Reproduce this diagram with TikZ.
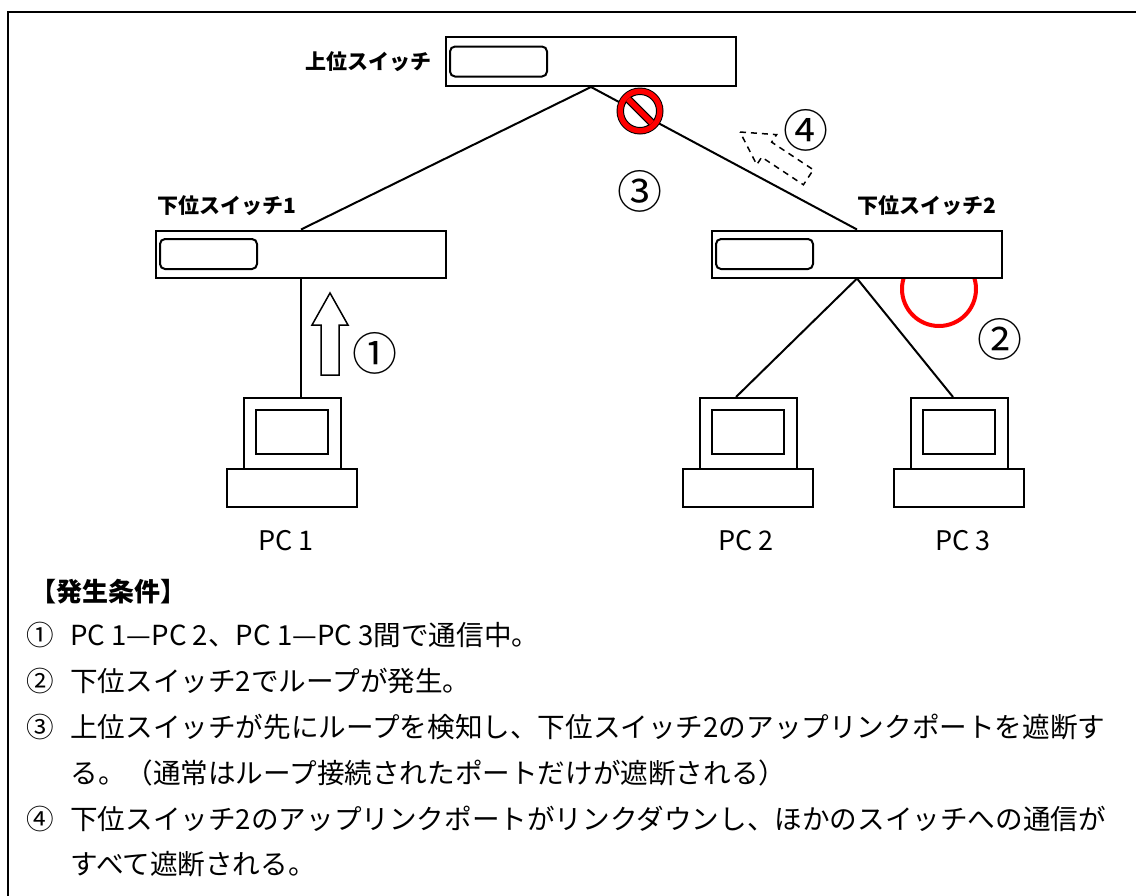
\documentclass[tikz,border=0pt]{standalone}
\usepackage{fontspec}
\setmainfont{Noto Sans CJK JP}
\usetikzlibrary{positioning}

\tikzset{
	pics/hollowarrow/.style={code={
		\draw[line width=0.75pt,fill=white,#1] (0,0) -- (18,32) -- (9,32) -- (9,82) -- (-9,82) -- (-9,32) -- (-18,32) -- cycle;
	}}
}

\begin{document}
\begin{tikzpicture}[x=0.5pt,y=-0.5pt,
	sw/.style={draw,fill=white,line width=1pt,minimum width=145pt,minimum height=24.5pt,inner sep=0pt},
	disp/.style={draw,line width=1pt,rounded corners=2.5pt,minimum width=48.5pt,minimum height=15pt,inner sep=0pt},
	mon/.style={draw,fill=white,line width=1pt,minimum width=48.5pt,minimum height=35.5pt,inner sep=0pt},
	scr/.style={draw,line width=1pt,minimum width=36pt,minimum height=22pt,inner sep=0pt},
	pcbase/.style={draw,fill=white,line width=1pt,minimum width=65pt,minimum height=19pt,inner sep=0pt},
	swlabel/.style={inner sep=0pt,font=\fontsize{10.5}{12}\selectfont\bfseries},
	pclabel/.style={inner sep=0pt,font=\fontsize{13.5}{16}\selectfont},
	num/.style={inner sep=0pt,font=\fontsize{22.5}{24}\selectfont},
	txt/.style={anchor=west,inner sep=0pt,font=\fontsize{13.8}{16}\selectfont},
	link/.style={line width=1pt}]
	\useasboundingbox (0,0) rectangle (1136,895);
	\draw[line width=1pt] (8,905) -- (8,12) -- (1145,12);

	% loop at the lower switch 2
	\draw[red,line width=2pt] (939,289) circle[radius=18.5pt];

	% switches
	\node[sw] (up) at (591,61.5) {};
	\node[disp,right=2pt of up.west] (updisp) {};
	\node[swlabel,left=6.5pt of up.west] (uplabel) {上位スイッチ};
	\node[sw,minimum height=23.5pt] (sw1) at (301,254) {};
	\node[disp,right=2pt of sw1.west] (sw1disp) {};
	\node[swlabel,above right=6.5pt and 1pt of sw1.north west] (sw1label) {下位スイッチ1};
	\node[sw,minimum height=23.5pt] (sw2) at (857,254) {};
	\node[disp,right=2pt of sw2.west] (sw2disp) {};
	\node[swlabel,above left=6.5pt and 3pt of sw2.north east] (sw2label) {下位スイッチ2};

	% PCs
	\node[mon] (pc1mon) at (292,433.5) {};
	\node[scr] (pc1scr) at ([yshift=0.75pt]pc1mon) {};
	\node[pcbase,below=-1pt of pc1mon] (pc1base) {};
	\node[pclabel] (pc1label) at (286,541) {PC 1};
	\node[mon] (pc2mon) at (748,433.5) {};
	\node[scr] (pc2scr) at ([yshift=0.75pt]pc2mon) {};
	\node[pcbase,below=-1pt of pc2mon] (pc2base) {};
	\node[pclabel] (pc2label) at (746,541) {PC 2};
	\node[mon] (pc3mon) at (959,433.5) {};
	\node[scr] (pc3scr) at ([yshift=0.75pt]pc3mon) {};
	\node[pcbase,below=-1pt of pc3mon] (pc3base) {};
	\node[pclabel] (pc3label) at (963,541) {PC 3};

	% cables
	\draw[link] (up.south) -- (sw1.north);
	\draw[link] (up.south) -- (sw2.north);
	\draw[link] (sw1.south) -- (sw1.south |- pc1mon.north);
	\draw[link] (sw2.south) -- ([xshift=-6pt]pc2mon.north);
	\draw[link] (sw2.south) -- ([xshift=-3pt]pc3mon.north);

	% blocked uplink
	\fill[black] (640,111) circle[radius=11.75pt];
	\fill[red] (640,111) circle[radius=11.25pt];
	\filldraw[fill=white,draw=black,line width=0.5pt] (640,111) circle[radius=8.25pt];
	\begin{scope}
		\clip (640,111) circle[radius=8.5pt];
		\begin{scope}[shift={(640,111)},rotate=-45]
			\filldraw[fill=red,draw=black,line width=0.5pt] (-20,-3.5) rectangle (20,3.5);
		\end{scope}
	\end{scope}

	% traffic arrows
	\pic at (330,293) {hollowarrow=solid};
	\pic[rotate=56.5] at (740,132) {hollowarrow={dash pattern=on 3pt off 2.5pt}};

	\node[num] (n1) at (375,353) {①};
	\node[num] (n2) at (1000,339) {②};
	\node[num] (n3) at (640,191) {③};
	\node[num] (n4) at (805.5,130) {④};

	% conditions
	\node[txt,font=\fontsize{13}{15}\selectfont\bfseries] (title) at (30,592) {【発生条件】};
	\node[txt] (item1) at (26,635) {\makebox[22pt][l]{①}PC 1—PC 2、PC 1—PC 3間で通信中。};
	\node[txt] (item2) at (26,681) {\makebox[22pt][l]{②}下位スイッチ2でループが発生。};
	\node[txt] (item3) at (26,727) {\makebox[22pt][l]{③}上位スイッチが先にループを検知し、下位スイッチ2のアップリンクポートを遮断す};
	\node[txt] (item3b) at (70,773) {る。（通常はループ接続されたポートだけが遮断される）};
	\node[txt] (item4) at (26,819) {\makebox[22pt][l]{④}下位スイッチ2のアップリンクポートがリンクダウンし、ほかのスイッチへの通信が};
	\node[txt] (item4b) at (70,864) {すべて遮断される。};
\end{tikzpicture}
\end{document}
